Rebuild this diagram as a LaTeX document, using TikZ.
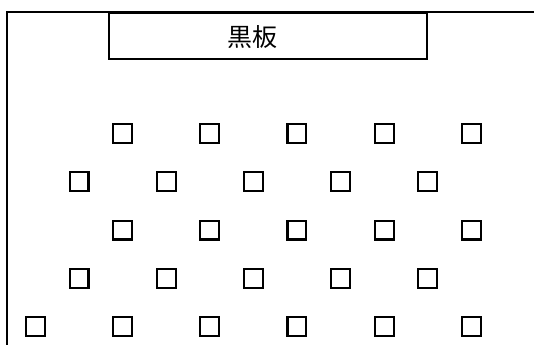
\documentclass[tikz,border=0pt]{standalone}
\usepackage{fontspec}
\newfontfamily\jpfont{Noto Sans CJK JP}
\usepackage{tikz}

\begin{document}
\begin{tikzpicture}[x=1pt,y=-1pt]
			\tikzstyle{board} = [draw, line width=2pt, minimum width=318pt, minimum height=46pt, inner sep=0pt]
			\tikzstyle{seat} = [draw, line width=2.1pt, minimum size=18.9pt, inner sep=0pt]
			\tikzstyle{wall} = [line width=2pt]
			\useasboundingbox (0,0) rectangle (534,345);
			
			\draw[wall] (534,12) -- (7,12) -- (7,345);
			\node[board](board) at (268,36) {};
			\node[font=\jpfont\fontsize{25}{25}\selectfont](boardtext) at (252.5,37) {黒板};
			
			\node[seat](seat12) at (122.5,133.3) {};
			\node[seat](seat13) at (209.7,133.3) {};
			\node[seat](seat14) at (296.9,133.3) {};
			\node[seat](seat15) at (384.1,133.3) {};
			\node[seat](seat16) at (471.3,133.3) {};
			
			\node[seat](seat21) at (79,181.5) {};
			\node[seat](seat22) at (166.2,181.5) {};
			\node[seat](seat23) at (253.4,181.5) {};
			\node[seat](seat24) at (340.6,181.5) {};
			\node[seat](seat25) at (427.8,181.5) {};
			
			\node[seat](seat32) at (122.5,230) {};
			\node[seat](seat33) at (209.7,230) {};
			\node[seat](seat34) at (296.9,230) {};
			\node[seat](seat35) at (384.1,230) {};
			\node[seat](seat36) at (471.3,230) {};
			
			\node[seat](seat41) at (79,278.5) {};
			\node[seat](seat42) at (166.2,278.5) {};
			\node[seat](seat43) at (253.4,278.5) {};
			\node[seat](seat44) at (340.6,278.5) {};
			\node[seat](seat45) at (427.8,278.5) {};
			
			\node[seat](seat51) at (35.3,326.5) {};
			\node[seat](seat52) at (122.5,326.5) {};
			\node[seat](seat53) at (209.7,326.5) {};
			\node[seat](seat54) at (296.9,326.5) {};
			\node[seat](seat55) at (384.1,326.5) {};
			\node[seat](seat56) at (471.3,326.5) {};
			
			\end{tikzpicture}
\end{document}
